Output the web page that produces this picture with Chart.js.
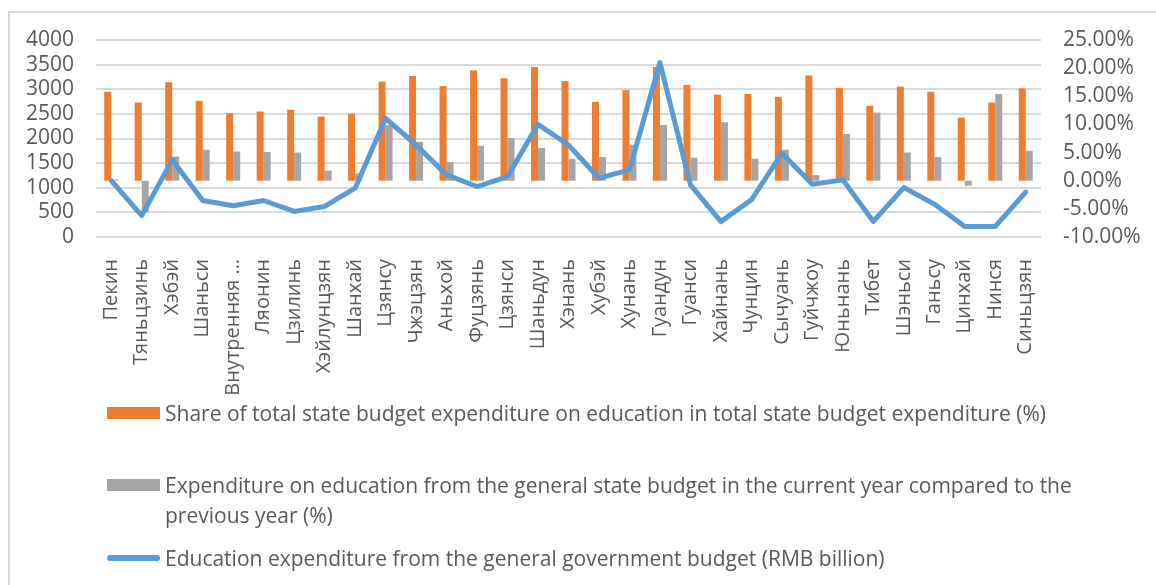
<!DOCTYPE html>
<html>
<head>
<meta charset="utf-8">
<script src="https://cdn.jsdelivr.net/npm/chart.js@4.4.1/dist/chart.umd.min.js"></script>
<style>
  html, body { margin: 0; padding: 0; background: #fff; }
  .wrap { position: relative; width: 1156px; height: 585px; overflow: hidden; font-family: 'Open Sans', sans-serif; }
  .frame { position: absolute; left: 8px; top: 11px; width: 1200px; height: 620px; border-left: 2px solid #d9d9d9; border-top: 2px solid #d9d9d9; }
  canvas { position: absolute; left: 0; top: 0; }
  .legend { position: absolute; left: 0; top: 0; color: #595959; font-size: 21px; }
  .item { position: absolute; left: 107px; display: flex; align-items: flex-start; }
  .mark { width: 53px; flex: none; margin-right: 5px; }
  .text { line-height: 30px; width: 930px; white-space: normal; }
</style>
</head>
<body>
<div class="wrap">
  <div class="frame"></div>
  <canvas id="myChart" width="1156" height="585"></canvas>
  <div class="legend" id="legend"></div>
</div>
<script>
const regions = ['Пекин', 'Тяньцзинь', 'Хэбэй', 'Шаньси', 'Внутренняя …', 'Ляонин', 'Цзилинь',
  'Хэйлунцзян', 'Шанхай', 'Цзянсу', 'Чжэцзян', 'Аньхой', 'Фуцзянь', 'Цзянси', 'Шаньдун',
  'Хэнань', 'Хубэй', 'Хунань', 'Гуандун', 'Гуанси', 'Хайнань', 'Чунцин', 'Сычуань',
  'Гуйчжоу', 'Юньнань', 'Тибет', 'Шэньси', 'Ганьсу', 'Цинхай', 'Нинся', 'Синьцзян'];

// share of education in total budget expenditure, %
const shareOfBudget = [15.8, 13.9, 17.5, 14.2, 12.0, 12.3, 12.6, 11.4, 11.9, 17.6, 18.6,
  16.8, 19.6, 18.2, 20.2, 17.7, 14.0, 16.1, 20.2, 17.0, 15.3, 15.4, 14.9, 18.7, 16.5,
  13.3, 16.7, 15.8, 11.2, 13.9, 16.4];

// change vs previous year, %
const yearOnYear = [0.2, -5.6, 4.3, 5.5, 5.2, 5.1, 5.0, 1.8, 1.3, 9.9, 6.9, 3.3, 6.2,
  7.6, 5.8, 3.9, 4.2, 6.4, 9.9, 4.1, 10.4, 3.9, 5.5, 1.0, 8.3, 12.1, 5.0, 4.2, -0.9,
  15.4, 5.3];

// education expenditure, RMB
const expenditure = [1146, 435, 1565, 741, 634, 741, 519, 620, 991, 2410, 1868, 1261,
  1025, 1227, 2287, 1868, 1194, 1362, 3542, 1059, 312, 755, 1700, 1073, 1160, 316,
  1004, 668, 215, 215, 911];

const leftTicks = [0, 500, 1000, 1500, 2000, 2500, 3000, 3500, 4000];
const rightTicks = [-10, -5, 0, 5, 10, 15, 20, 25];

const labelShare = 'Share of total state budget expenditure on education in total state budget expenditure (%)';
const labelYoY = 'Expenditure on education from the general state budget in the current year compared to the previous year (%)';
const labelSpend = 'Education expenditure from the general government budget (RMB billion)';

const axisFont = { family: 'Open Sans', size: 21 };
const catFont = { family: 'Open Sans', size: 20 };

{
  const ctx = document.getElementById('myChart').getContext('2d');

  // eslint-disable-next-line
  const chart = new Chart(ctx, {
    type: 'bar',
    data: {
      labels: regions,
      datasets: [
        {
          type: 'line',
          label: labelSpend,
          data: expenditure,
          yAxisID: 'y',
          borderColor: '#5B9BD5',
          backgroundColor: '#5B9BD5',
          borderWidth: 5,
          pointRadius: 0,
          tension: 0,
          borderJoinStyle: 'round',
          borderCapStyle: 'round',
          order: 0,
        },
        {
          label: labelShare,
          data: shareOfBudget,
          yAxisID: 'y1',
          backgroundColor: '#ED7D31',
          categoryPercentage: 0.46,
          barPercentage: 1,
          order: 1,
        },
        {
          label: labelYoY,
          data: yearOnYear,
          yAxisID: 'y1',
          backgroundColor: '#A5A5A5',
          categoryPercentage: 0.46,
          barPercentage: 1,
          order: 1,
        },
      ],
    },
    options: {
      responsive: false,
      animation: false,
      layout: { padding: { top: 40, left: 0, right: 0, bottom: 0 } },
      plugins: {
        legend: { display: false },
        tooltip: { enabled: false },
      },
      scales: {
        x: {
          grid: { display: false, drawTicks: false },
          border: { display: false },
          ticks: {
            color: '#595959',
            font: catFont,
            minRotation: 90,
            maxRotation: 90,
            autoSkip: false,
            padding: 22,
          },
          afterFit(scale) { scale.height = 348; },
        },
        y: {
          position: 'left',
          min: 0,
          max: 4000,
          afterBuildTicks(scale) { scale.ticks = leftTicks.map(v => ({ value: v })); },
          ticks: { autoSkip: false, color: '#595959', font: axisFont, padding: 22, callback: v => String(v) },
          grid: { color: '#d9d9d9', lineWidth: 2, drawTicks: false },
          border: { display: false },
          afterFit(scale) { scale.width = 96; },
        },
        y1: {
          position: 'right',
          min: -10,
          max: 25,
          afterBuildTicks(scale) { scale.ticks = rightTicks.map(v => ({ value: v })); },
          ticks: {
            autoSkip: false,
            color: '#595959',
            font: axisFont,
            padding: 22,
            callback: v => v.toFixed(2) + '%',
          },
          grid: { display: false, drawTicks: false },
          border: { display: false },
          afterFit(scale) { scale.width = 115; },
        },
      },
    },
  });

  // legend rows below the plot, one series per row
  const rows = [
    { ds: chart.data.datasets[1], top: 398, line: false },
    { ds: chart.data.datasets[2], top: 470, line: false },
    { ds: chart.data.datasets[0], top: 543, line: true },
  ];
  const legend = document.getElementById('legend');
  rows.forEach(r => {
    const item = document.createElement('div');
    item.className = 'item';
    item.style.top = r.top + 'px';
    const mark = document.createElement('div');
    mark.className = 'mark';
    if (r.line) {
      mark.style.height = '6px';
      mark.style.marginTop = '12px';
      mark.style.borderRadius = '3px';
    } else {
      mark.style.height = '12px';
      mark.style.marginTop = '9px';
    }
    mark.style.background = r.ds.backgroundColor;
    const text = document.createElement('div');
    text.className = 'text';
    text.textContent = r.ds.label;
    item.appendChild(mark);
    item.appendChild(text);
    legend.appendChild(item);
  });
}
</script>
</body>
</html>
